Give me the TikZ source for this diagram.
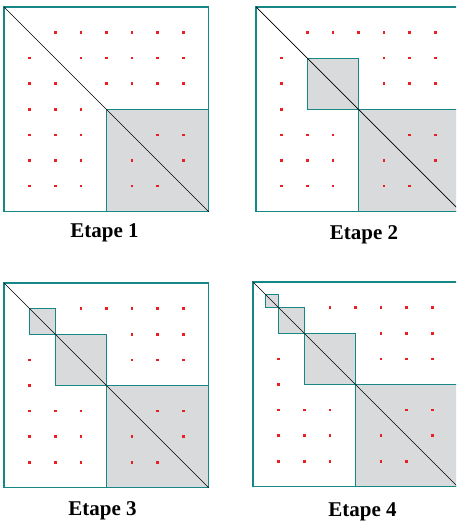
\documentclass[tikz,border=0pt]{standalone}
\usepackage{fontspec}
\setmainfont{Liberation Serif}
\definecolor{edge}{RGB}{22,134,134}
\definecolor{shade}{RGB}{217,218,220}
\definecolor{dotred}{RGB}{235,30,35}
\tikzset{
  outer/.style={draw=edge, line width=1.3pt},
  blockbox/.style={fill=shade, draw=edge, line width=1.3pt},
  diagline/.style={draw=black, line width=0.7pt},
  steplabel/.style={font=\bfseries\fontsize{21}{25}\selectfont, anchor=base, inner sep=0pt},
}
% red points of a panel, given as row/{columns}
\newcommand{\reddots}[1]{%
  \foreach \j/\cols in {#1}{%
    \foreach \i in \cols {\fill[dotred] (\i,\j) +(-1.3pt,-1.3pt) rectangle +(1.3pt,1.3pt);}}}
\begin{document}
\begin{tikzpicture}
  \useasboundingbox (0,0) rectangle (456pt,-521pt);
  \clip (0,0) rectangle (456pt,-521pt);
  % Etape 1
  \begin{scope}[shift={(4pt,-7pt)}, x=25.6pt, y=-25.6pt]
    \path[blockbox] (4,4) rectangle (8,8);
    \reddots{1/{2,3,4,5,6,7}, 2/{1,3,4,5,6,7}, 3/{1,2,4,5,6,7}, 4/{1,2,3},
             5/{1,2,3,6,7}, 6/{1,2,3,5,7}, 7/{1,2,3,5,6}}
    \draw[outer] (0,0) rectangle (8,8);
    \draw[diagline] (0,0) -- (8,8);
  \end{scope}
  % Etape 2
  \begin{scope}[shift={(256pt,-7pt)}, x=25.6pt, y=-25.6pt]
    \path[blockbox] (4,4) rectangle (8,8);
    \path[blockbox] (2,2) rectangle (4,4);
    \reddots{1/{2,3,4,5,6,7}, 2/{1,5,6,7}, 3/{1,5,6,7}, 4/{1},
             5/{1,2,3,6,7}, 6/{1,2,3,5,7}, 7/{1,2,3,5,6}}
    \draw[outer] (0,0) rectangle (8,8);
    \draw[diagline] (0,0) -- (8,8);
  \end{scope}
  % Etape 3
  \begin{scope}[shift={(4pt,-283pt)}, x=25.6pt, y=-25.6pt]
    \path[blockbox] (4,4) rectangle (8,8);
    \path[blockbox] (2,2) rectangle (4,4);
    \path[blockbox] (1,1) rectangle (2,2);
    \reddots{1/{3,4,5,6,7}, 2/{5,6,7}, 3/{1,5,6,7}, 4/{1},
             5/{1,2,3,6,7}, 6/{1,2,3,5,7}, 7/{1,2,3,5,6}}
    \draw[outer] (0,0) rectangle (8,8);
    \draw[diagline] (0,0) -- (8,8);
  \end{scope}
  % Etape 4
  \begin{scope}[shift={(253pt,-282pt)}, x=25.6pt, y=-25.6pt]
    \path[blockbox] (4,4) rectangle (8,8);
    \path[blockbox] (2,2) rectangle (4,4);
    \path[blockbox] (1,1) rectangle (2,2);
    \path[blockbox] (0.5,0.5) rectangle (1,1);
    \reddots{1/{3,4,5,6,7}, 2/{5,6,7}, 3/{1,5,6,7}, 4/{1},
             5/{1,2,3,6,7}, 6/{1,2,3,5,7}, 7/{1,2,3,5,6}}
    \draw[outer] (0,0) rectangle (8,8);
    \draw[diagline] (0,0) -- (8,8);
  \end{scope}
  % captions
  \node[steplabel] (lab1) at (104.5pt,-237pt) {Etape 1};
  \node[steplabel] (lab2) at (364pt,-239pt) {Etape 2};
  \node[steplabel] (lab3) at (102.5pt,-515pt) {Etape 3};
  \node[steplabel] (lab4) at (362.5pt,-516pt) {Etape 4};
\end{tikzpicture}
\end{document}
